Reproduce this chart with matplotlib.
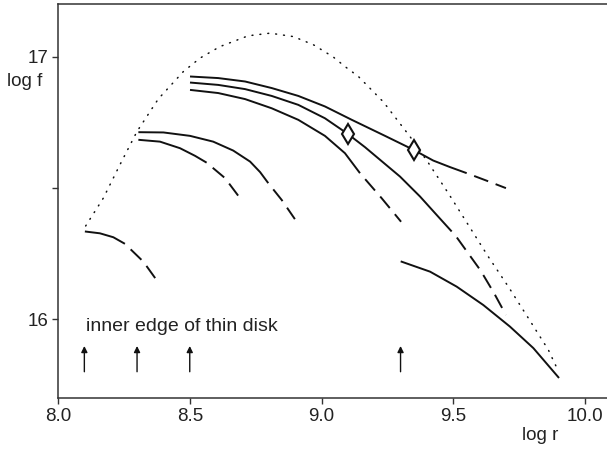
import matplotlib
matplotlib.use("Agg")
import matplotlib.pyplot as plt

plt.rcParams['font.family'] = ['Liberation Sans', 'DejaVu Sans']

# ---- data ----
env_x = [8.105, 8.172, 8.235, 8.300, 8.381, 8.476, 8.539, 8.615, 8.722, 8.805, 8.893,
         8.969, 9.045, 9.089, 9.140, 9.235, 9.336, 9.405, 9.481, 9.557, 9.633,
         9.709, 9.785, 9.861, 9.900]
env_y = [16.355, 16.461, 16.588, 16.715, 16.839, 16.943, 16.994, 17.038, 17.079, 17.089, 17.076,
         17.045, 16.998, 16.962, 16.924, 16.827, 16.695, 16.596, 16.480, 16.359, 16.238,
         16.124, 16.004, 15.883, 15.800]

# curves: solid part then dashed continuation
a_solid_x = [8.501, 8.608, 8.710, 8.811, 8.912, 9.013, 9.115, 9.241, 9.349, 9.424, 9.488, 9.551]
a_solid_y = [16.924, 16.918, 16.905, 16.880, 16.850, 16.810, 16.759, 16.698, 16.645, 16.604, 16.579, 16.556]
a_dash_x = [9.551, 9.625, 9.700]
a_dash_y = [16.556, 16.528, 16.499]

b_solid_x = [8.501, 8.608, 8.710, 8.811, 8.912, 9.013, 9.099, 9.165, 9.222, 9.298, 9.374, 9.437, 9.494]
b_solid_y = [16.901, 16.892, 16.876, 16.850, 16.816, 16.765, 16.706, 16.655, 16.607, 16.543, 16.467, 16.397, 16.334]
b_dash_x = [9.494, 9.513, 9.604, 9.655, 9.700]
b_dash_y = [16.334, 16.312, 16.185, 16.099, 16.016]

c_solid_x = [8.501, 8.608, 8.710, 8.811, 8.912, 9.013, 9.089, 9.146]
c_solid_y = [16.873, 16.861, 16.838, 16.803, 16.759, 16.698, 16.632, 16.556]
c_dash_x = [9.146, 9.228, 9.302]
c_dash_y = [16.556, 16.461, 16.371]

d_solid_x = [8.305, 8.400, 8.501, 8.589, 8.665, 8.729, 8.767, 8.798]
d_solid_y = [16.712, 16.711, 16.698, 16.676, 16.642, 16.600, 16.560, 16.518]
d_dash_x = [8.798, 8.849, 8.899]
d_dash_y = [16.518, 16.454, 16.381]

e_solid_x = [8.305, 8.387, 8.463, 8.520, 8.564]
e_solid_y = [16.683, 16.676, 16.651, 16.622, 16.596]
e_dash_x = [8.564, 8.634, 8.684]
e_dash_y = [16.596, 16.537, 16.470]

f_solid_x = [8.102, 8.159, 8.210, 8.254]
f_solid_y = [16.334, 16.327, 16.312, 16.287]
f_dash_x = [8.254, 8.324, 8.372]
f_dash_y = [16.287, 16.219, 16.152]

g_x = [9.304, 9.412, 9.513, 9.614, 9.715, 9.804, 9.899]
g_y = [16.219, 16.181, 16.124, 16.054, 15.972, 15.890, 15.779]

diamond_x = [9.10, 9.35]
diamond_y = [16.704, 16.645]

arrow_x = [8.1, 8.3, 8.5, 9.3]
arrow_y0 = 15.80
arrow_y1 = 15.898

xticks = [8.0, 8.5, 9.0, 9.5, 10.0]
xticklabels = ['8.0', '8.5', '9.0', '9.5', '10.0']
yticks = [16.0, 16.5, 17.0]
yticklabels = ['16', '', '17']

# ---- figure ----
fig = plt.figure(figsize=(6.07, 4.5), dpi=100)
ax = fig.add_axes([58/607, 52/450, 1 - 58/607, 394/450])
ax.set_xlim(8.0, 8.0 + (607 - 58) / 263.5)
ax.set_ylim(15.70, 17.20)

ink = '#111111'
lw = 1.4
ax.plot(env_x, env_y, color=ink, lw=1.1, linestyle=(0, (0.6, 4.6)),
        dash_capstyle='round')

for sx, sy, dx, dy in [(a_solid_x, a_solid_y, a_dash_x, a_dash_y),
                       (b_solid_x, b_solid_y, b_dash_x, b_dash_y),
                       (c_solid_x, c_solid_y, c_dash_x, c_dash_y),
                       (d_solid_x, d_solid_y, d_dash_x, d_dash_y),
                       (e_solid_x, e_solid_y, e_dash_x, e_dash_y),
                       (f_solid_x, f_solid_y, f_dash_x, f_dash_y)]:
    ax.plot(sx, sy, color=ink, lw=lw, solid_capstyle='butt', solid_joinstyle='round')
    ax.plot(dx, dy, color=ink, lw=lw, linestyle=(7.7, (7.7, 4.1)),
            dash_joinstyle='round')

ax.plot(g_x, g_y, color=ink, lw=lw, solid_joinstyle='round')

ax.plot(diamond_x, diamond_y, linestyle='none', marker='d', markersize=10.5,
        markerfacecolor='white', markeredgecolor=ink, markeredgewidth=1.5,
        zorder=5)

for x in arrow_x:
    ax.annotate('', xy=(x, arrow_y1), xytext=(x, arrow_y0),
                arrowprops=dict(arrowstyle='-|>', lw=1.0, color=ink,
                                mutation_scale=9, shrinkA=0, shrinkB=0))

ax.text(8.108, 15.972, 'inner edge of thin disk', fontsize=14,
        ha='left', va='center', color='#222222')

ax.set_xticks(xticks)
ax.set_xticklabels(xticklabels)
ax.set_yticks(yticks)
ax.set_yticklabels(yticklabels)
ax.tick_params(axis='both', direction='out', length=4, width=1,
               labelsize=13.5, color='#333333', labelcolor='#222222', pad=3)

for side in ['left', 'bottom', 'top']:
    ax.spines[side].set_color('#333333')
    ax.spines[side].set_linewidth(1.1)
ax.spines['right'].set_visible(False)

fig.text(25/607, 1 - 81/450, 'log f', fontsize=13.5, ha='center', va='center',
         color='#222222')
fig.text(540/607, 1 - 436/450, 'log r', fontsize=13.5, ha='center', va='center',
         color='#222222')

fig.savefig('out.png', dpi=100)
